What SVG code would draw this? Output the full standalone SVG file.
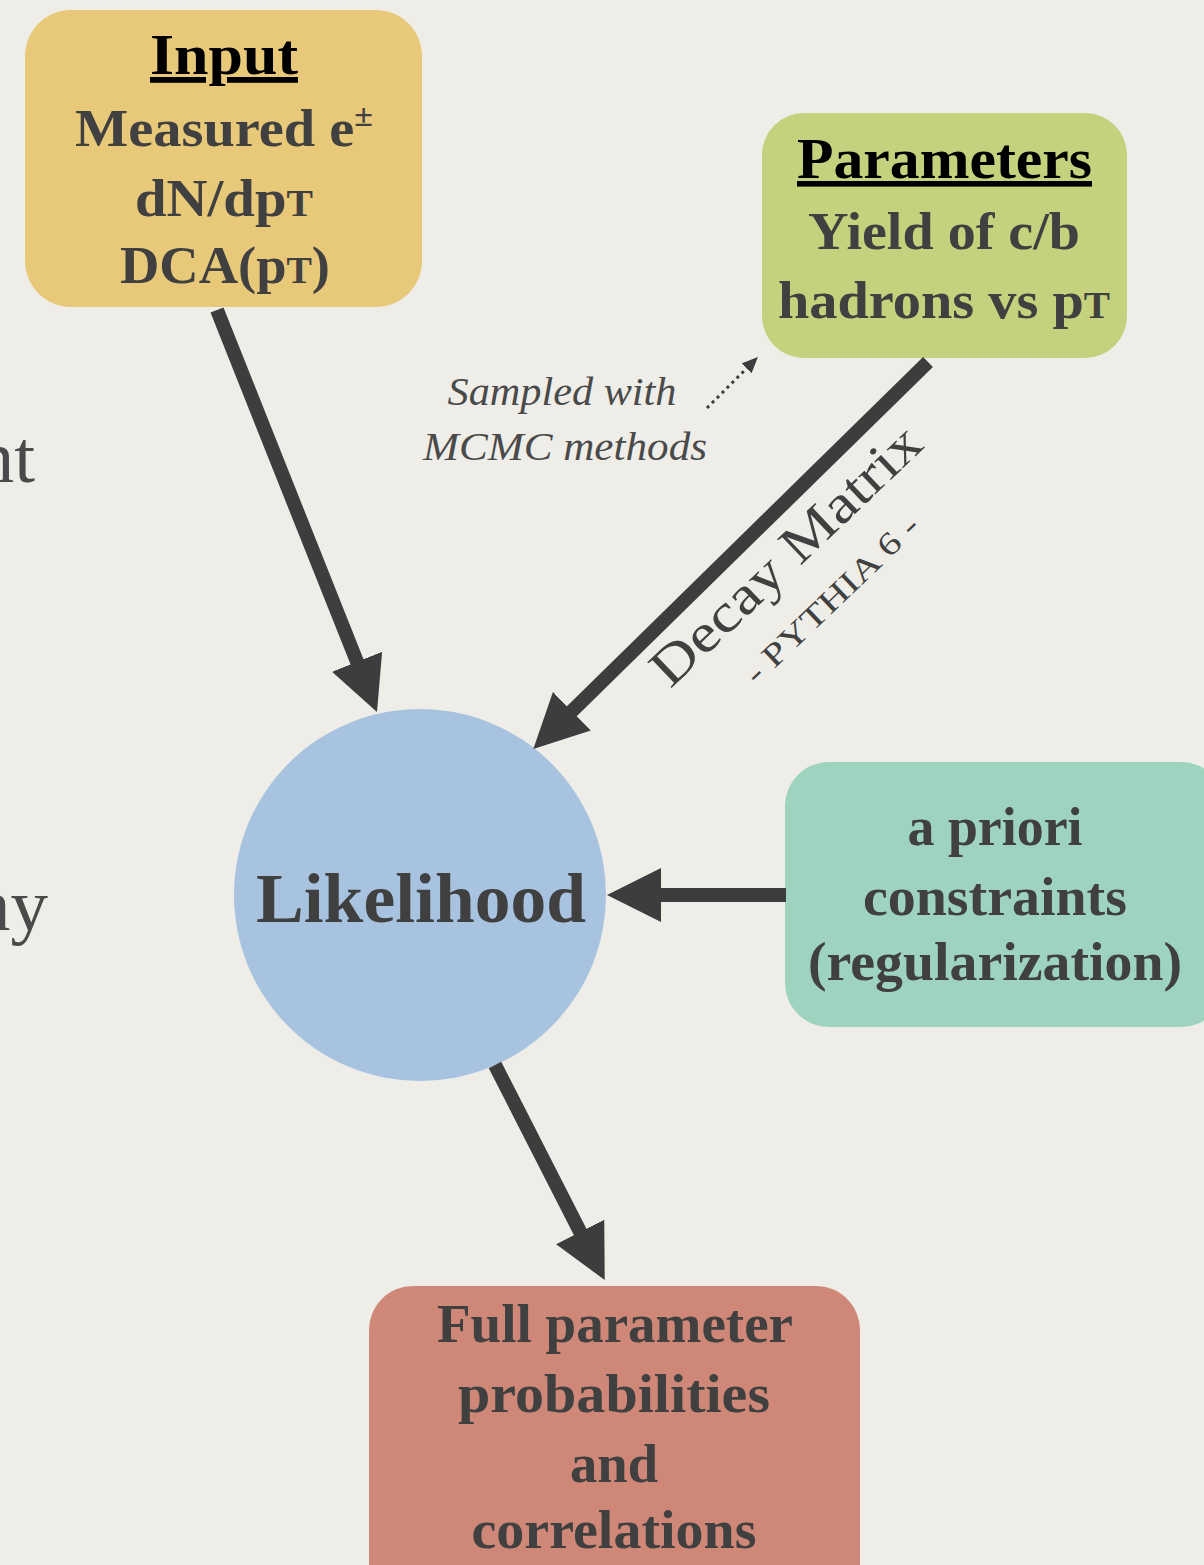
<svg xmlns="http://www.w3.org/2000/svg" width="1204" height="1565" viewBox="0 0 1204 1565">
  <style>
    .bg { fill: #efede8; }
    .box { stroke: none; }
    .t { font-family: "Liberation Serif", "Times New Roman", serif; font-weight: bold; fill: #404040; text-anchor: middle; }
    .title { font-family: "Liberation Serif", "Times New Roman", serif; font-weight: bold; fill: #000; text-anchor: middle; text-decoration: underline; }
    .it { font-family: "Liberation Serif", "Times New Roman", serif; font-style: italic; fill: #4a4a4a; text-anchor: middle; }
    .lbl { font-family: "Liberation Serif", "Times New Roman", serif; fill: #404040; text-anchor: middle; }
    .frag { font-family: "Liberation Serif", "Times New Roman", serif; fill: #4a4a4a; text-anchor: end; font-size: 75px; }
    .conn { stroke: #3d3d3d; stroke-width: 14; fill: none; marker-end: url(#head); }
    .dot { stroke: #3d3d3d; stroke-width: 3; stroke-dasharray: 3 4; fill: none; marker-end: url(#smallhead); }
  </style>
  <defs>
    <marker id="head" markerUnits="userSpaceOnUse" viewBox="0 0 54 54" markerWidth="54" markerHeight="54" refX="4" refY="27" orient="auto">
      <path d="M0,0 L54,27 L0,54 Z" fill="#3d3d3d"/>
    </marker>
    <marker id="smallhead" markerUnits="userSpaceOnUse" viewBox="0 0 16 14" markerWidth="16" markerHeight="14" refX="2" refY="7" orient="auto">
      <path d="M0,0 L16,7 L0,14 Z" fill="#3d3d3d"/>
    </marker>
  </defs>
  <rect class="bg" x="0" y="0" width="1204" height="1565"/>

  <g id="fragments">
    <text class="frag" x="35" y="482">nt</text>
    <text class="frag" x="48" y="930">ny</text>
  </g>

  <g id="node-input">
    <rect class="box" x="25" y="10" width="397" height="297" rx="46" fill="#e8c97a"/>
    <text class="title" x="224" y="74" font-size="58" textLength="148" lengthAdjust="spacingAndGlyphs">Input</text>
    <text class="t" x="224" y="146" font-size="53" textLength="298" lengthAdjust="spacingAndGlyphs">Measured e<tspan font-size="32" dy="-20">±</tspan></text>
    <text class="t" x="224" y="216" font-size="53" textLength="178" lengthAdjust="spacingAndGlyphs">dN/dp<tspan font-size="37">T</tspan></text>
    <text class="t" x="225" y="283" font-size="53" textLength="210" lengthAdjust="spacingAndGlyphs">DCA(p<tspan font-size="37">T</tspan>)</text>
  </g>

  <g id="node-parameters">
    <rect class="box" x="762" y="113" width="365" height="245" rx="42" fill="#c5d17c"/>
    <text class="title" x="944.5" y="178" font-size="56" textLength="295" lengthAdjust="spacingAndGlyphs">Parameters</text>
    <text class="t" x="944" y="249" font-size="53" textLength="272" lengthAdjust="spacingAndGlyphs">Yield of c/b</text>
    <text class="t" x="944" y="318" font-size="53" textLength="332" lengthAdjust="spacingAndGlyphs">hadrons vs p<tspan font-size="37">T</tspan></text>
  </g>

  <g id="node-likelihood">
    <circle cx="420" cy="895" r="186" fill="#a8c3e0"/>
    <text class="t" x="421" y="922" font-size="70" textLength="330" lengthAdjust="spacingAndGlyphs">Likelihood</text>
  </g>

  <g id="node-apriori">
    <rect class="box" x="785" y="762" width="440" height="265" rx="44" fill="#9dd3bf"/>
    <text class="t" x="995" y="845" font-size="54" textLength="175" lengthAdjust="spacingAndGlyphs">a priori</text>
    <text class="t" x="995" y="915" font-size="54" textLength="264" lengthAdjust="spacingAndGlyphs">constraints</text>
    <text class="t" x="995" y="980" font-size="54" textLength="374" lengthAdjust="spacingAndGlyphs">(regularization)</text>
  </g>

  <g id="node-result">
    <rect class="box" x="369" y="1286" width="491" height="330" rx="44" fill="#cf8878"/>
    <text class="t" x="615" y="1342" font-size="54" textLength="356" lengthAdjust="spacingAndGlyphs">Full parameter</text>
    <text class="t" x="614" y="1412" font-size="54" textLength="312" lengthAdjust="spacingAndGlyphs">probabilities</text>
    <text class="t" x="614" y="1482" font-size="54" textLength="88" lengthAdjust="spacingAndGlyphs">and</text>
    <text class="t" x="614" y="1548" font-size="54" textLength="285" lengthAdjust="spacingAndGlyphs">correlations</text>
  </g>

  <g id="note-sampled">
    <text class="it" x="562" y="405" font-size="39" textLength="229" lengthAdjust="spacingAndGlyphs">Sampled with</text>
    <text class="it" x="565" y="460" font-size="39" textLength="284" lengthAdjust="spacingAndGlyphs">MCMC methods</text>
  </g>

  <g id="connectors">
    <line class="conn" x1="217" y1="310" x2="358.5" y2="665.5"/>
    <line class="conn" x1="928" y1="362" x2="569" y2="714"/>
    <line class="conn" x1="786" y1="895" x2="657" y2="895"/>
    <line class="conn" x1="495" y1="1065" x2="582" y2="1235.5"/>
    <line class="dot" x1="707" y1="408" x2="748" y2="367"/>
    <text class="lbl" transform="translate(798,568) rotate(-43.5)" font-size="54" textLength="352" lengthAdjust="spacingAndGlyphs">Decay Matrix</text>
    <text class="lbl" transform="translate(839,607) rotate(-43.7)" font-size="32" textLength="228" lengthAdjust="spacingAndGlyphs">- PYTHIA 6 -</text>
  </g>
</svg>
